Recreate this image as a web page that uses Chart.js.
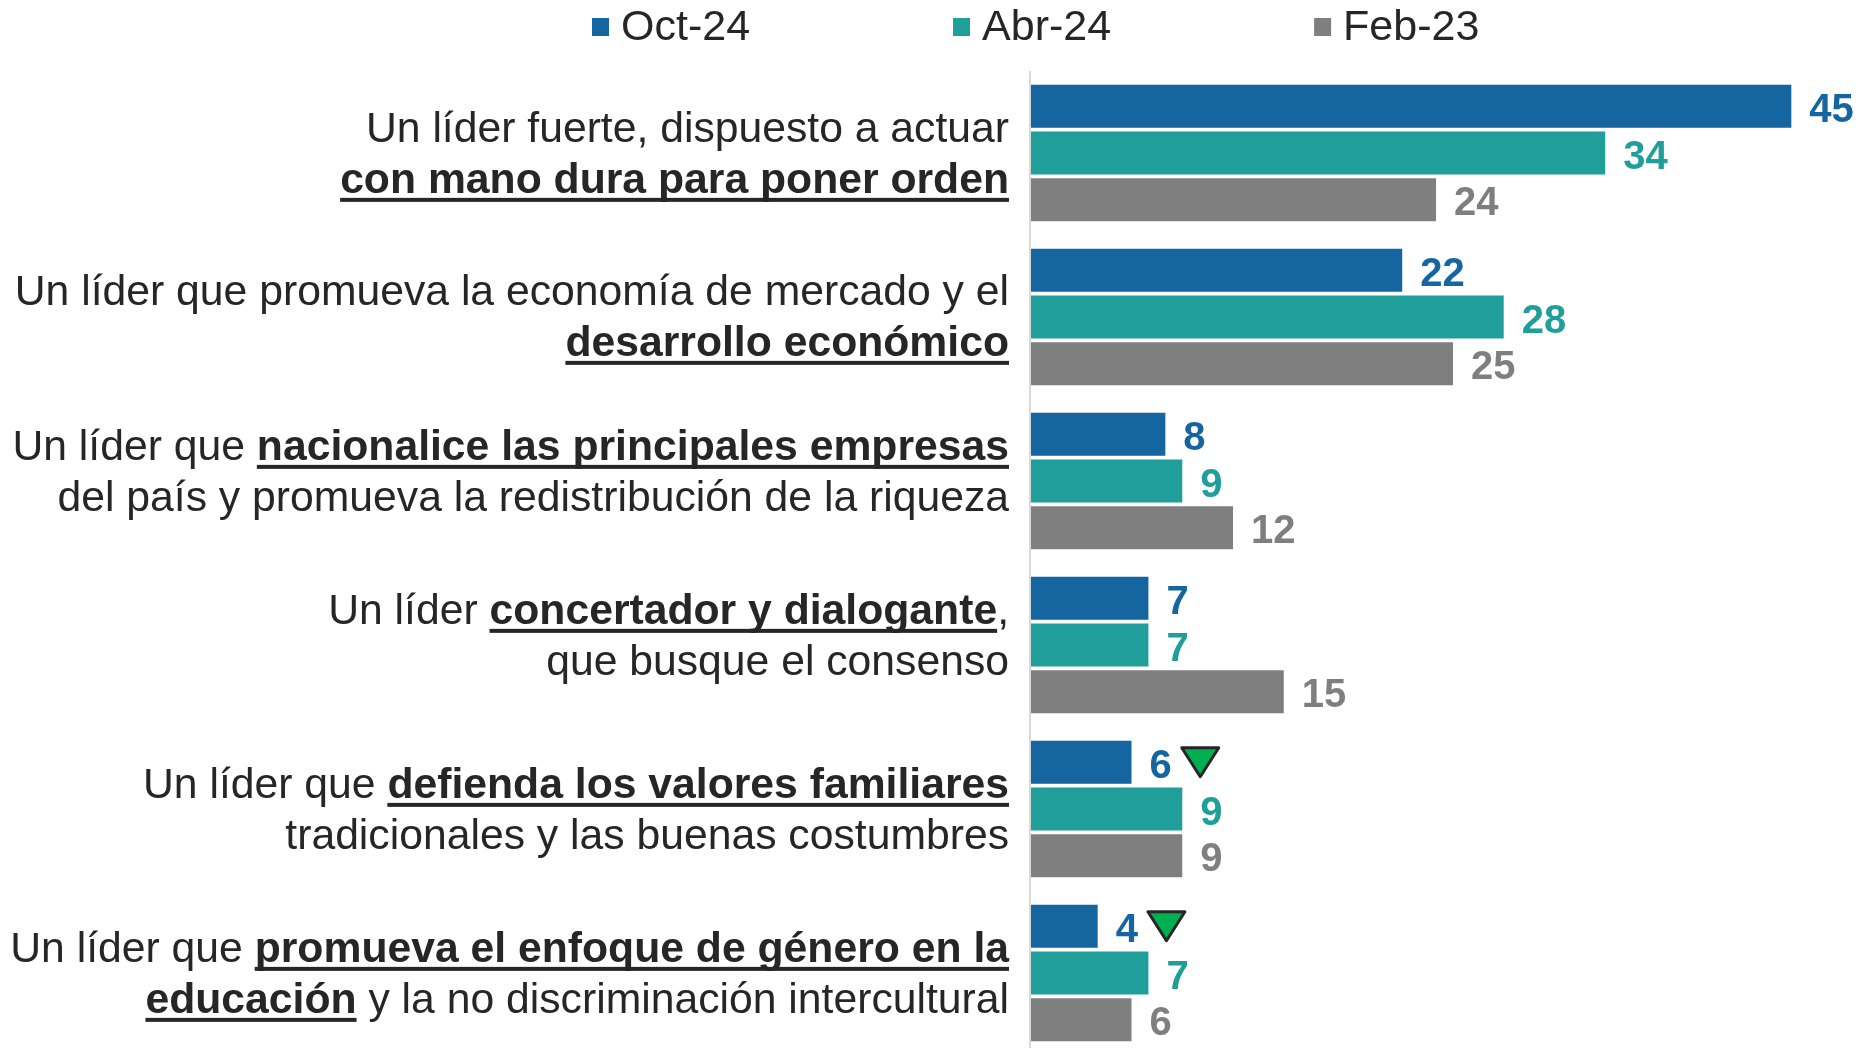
<!DOCTYPE html>
<html>
<head>
<meta charset="utf-8">
<script src="https://cdn.jsdelivr.net/npm/chart.js@4.4.1/dist/chart.umd.min.js"></script>
<style>
  html, body { margin: 0; padding: 0; background: #fff; overflow: hidden; }
  #wrap { width: 1865px; height: 1060px; position: relative; }
</style>
</head>
<body>
<div id="wrap"><canvas id="chart"></canvas></div>
<script>
// categorías (texto plano)
const categories = [
    'Un líder fuerte, dispuesto a actuar con mano dura para poner orden',
    'Un líder que promueva la economía de mercado y el desarrollo económico',
    'Un líder que nacionalice las principales empresas del país y promueva la redistribución de la riqueza',
    'Un líder concertador y dialogante, que busque el consenso',
    'Un líder que defienda los valores familiares tradicionales y las buenas costumbres',
    'Un líder que promueva el enfoque de género en la educación y la no discriminación intercultural'
];

// etiquetas en dos líneas: [texto, negrita+subrayado]
const labelLines = [
    [[['Un líder fuerte, dispuesto a actuar', false]], [['con mano dura para poner orden', true]]],
    [[['Un líder que promueva la economía de mercado y el', false]], [['desarrollo económico', true]]],
    [[['Un líder que ', false], ['nacionalice las principales empresas', true]], [['del país y promueva la redistribución de la riqueza', false]]],
    [[['Un líder ', false], ['concertador y dialogante', true], [',', false]], [['que busque el consenso', false]]],
    [[['Un líder que ', false], ['defienda los valores familiares', true]], [['tradicionales y las buenas costumbres', false]]],
    [[['Un líder que ', false], ['promueva el enfoque de género en la', true]], [['educación', true], [' y la no discriminación intercultural', false]]]
];

const seriesNames = ['Oct-24', 'Abr-24', 'Feb-23'];
const seriesColors = ['#1565A0', '#1F9E9A', '#7F7F7F'];

const oct24 = [45, 22, 8, 7, 6, 4];
const abr24 = [34, 28, 9, 7, 9, 7];
const feb23 = [24, 25, 12, 15, 9, 6];

// baja significativa (triángulo verde)
const oct24Drop = [false, false, false, false, true, true];

const FONT = '"Liberation Sans", Arial, sans-serif';
const TEXT_COLOR = '#262626';
// pequeño desplazamiento vertical de algunas etiquetas, como en el original
const LABEL_SHIFT = [0, -1, -10, -10, 0, 0];

// etiquetas de categoría con negrita y subrayado
const categoryLabels = {
    id: 'categoryLabels',
    afterDraw(chart) {
        const ctx = chart.ctx;
        const yScale = chart.scales.y;
        const right = chart.chartArea.left - 21;
        const fs = 42.7;
        ctx.save();
        ctx.fillStyle = TEXT_COLOR;
        ctx.textBaseline = 'alphabetic';
        ctx.textAlign = 'left';
        labelLines.forEach((lines, i) => {
            const yc = yScale.getPixelForValue(i) + LABEL_SHIFT[i];
            lines.forEach((segs, li) => {
                const base = yc + (li === 0 ? -25.5 : 25.5) + fs * 0.36 - 1;
                const widths = segs.map(s => {
                    ctx.font = (s[1] ? 'bold ' : '') + fs + 'px ' + FONT;
                    return ctx.measureText(s[0]).width;
                });
                let x = right - widths.reduce((a, b) => a + b, 0);
                segs.forEach((s, k) => {
                    ctx.font = (s[1] ? 'bold ' : '') + fs + 'px ' + FONT;
                    ctx.fillText(s[0], x, base);
                    if (s[1]) {
                        ctx.fillRect(x, base + 5, widths[k], 4);
                    }
                    x += widths[k];
                });
            });
        });
        ctx.restore();
    }
};

// valores al final de cada barra + triángulos
const valueLabels = {
    id: 'valueLabels',
    afterDatasetsDraw(chart) {
        const ctx = chart.ctx;
        ctx.save();
        ctx.font = 'bold 40px ' + FONT;
        ctx.textBaseline = 'middle';
        ctx.textAlign = 'left';
        chart.data.datasets.forEach((ds, d) => {
            const meta = chart.getDatasetMeta(d);
            meta.data.forEach((bar, i) => {
                ctx.fillStyle = ds.backgroundColor;
                const txt = String(ds.data[i]);
                const x = bar.x + 18;
                ctx.fillText(txt, x, bar.y + 4.5);
                if (d === 0 && oct24Drop[i]) {
                    const tx = x + ctx.measureText(txt).width + 10;
                    const w = 37, h = 29;
                    ctx.beginPath();
                    ctx.moveTo(tx, bar.y - h / 2);
                    ctx.lineTo(tx + w, bar.y - h / 2);
                    ctx.lineTo(tx + w / 2, bar.y + h / 2);
                    ctx.closePath();
                    ctx.fillStyle = '#00B050';
                    ctx.fill();
                    ctx.lineWidth = 3;
                    ctx.lineJoin = 'round';
                    ctx.strokeStyle = TEXT_COLOR;
                    ctx.stroke();
                }
            });
        });
        ctx.restore();
    }
};

// eje vertical y leyenda
const axisAndLegend = {
    id: 'axisAndLegend',
    afterDraw(chart) {
        const ctx = chart.ctx;
        const area = chart.chartArea;
        const x0 = chart.scales.x.getPixelForValue(0);
        ctx.save();
        ctx.strokeStyle = '#D9D9D9';
        ctx.lineWidth = 2;
        ctx.beginPath();
        ctx.moveTo(x0, area.top);
        ctx.lineTo(x0, chart.height);
        ctx.stroke();

        ctx.font = '43px ' + FONT;
        ctx.textBaseline = 'middle';
        ctx.textAlign = 'left';
        let x = 592;
        const yc = 27;
        seriesNames.forEach((name, k) => {
            ctx.fillStyle = seriesColors[k];
            ctx.fillRect(x, yc - 9, 17, 18);
            ctx.fillStyle = TEXT_COLOR;
            ctx.fillText(name, x + 29, yc + 1);
            x += 29 + ctx.measureText(name).width + 203;
        });
        ctx.restore();
    }
};

const ctx = document.getElementById('chart').getContext('2d');
new Chart(ctx, {
    type: 'bar',
    data: {
        labels: categories,
        datasets: [
            { label: seriesNames[0], data: oct24, backgroundColor: seriesColors[0] },
            { label: seriesNames[1], data: abr24, backgroundColor: seriesColors[1] },
            { label: seriesNames[2], data: feb23, backgroundColor: seriesColors[2] }
        ]
    },
    options: {
        indexAxis: 'y',
        responsive: true,
        maintainAspectRatio: false,
        animation: false,
        devicePixelRatio: 1,
        categoryPercentage: 0.855,
        barPercentage: 0.92,
        layout: { padding: { left: 1030, right: 6, top: 71, bottom: 5 } },
        plugins: {
            legend: { display: false },
            tooltip: { enabled: false }
        },
        scales: {
            x: { display: false, min: 0, max: 49 },
            y: { display: false }
        }
    },
    plugins: [categoryLabels, valueLabels, axisAndLegend]
});
</script>
</body>
</html>
